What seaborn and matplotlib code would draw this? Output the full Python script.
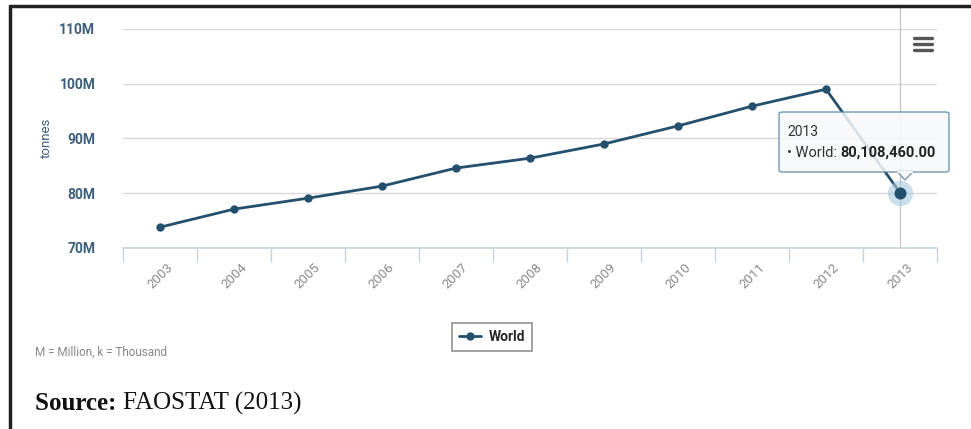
import matplotlib
matplotlib.use("Agg")
import matplotlib.pyplot as plt
import seaborn as sns
import pandas as pd
import numpy as np
from matplotlib.patches import FancyBboxPatch, Polygon
from matplotlib.lines import Line2D

# data (million tonnes)
years = ["2003", "2004", "2005", "2006", "2007", "2008", "2009", "2010", "2011", "2012", "2013"]
world = [73.8, 77.1, 79.1, 81.3, 84.6, 86.4, 89.0, 92.3, 95.9, 99.0, 80.108460]
yticks = [70, 80, 90, 100, 110]
ytick_labels = ["70M", "80M", "90M", "100M", "110M"]

W, H = 971, 429
line_col = "#24506e"
lab_col = "#3d5f7c"

sns.set_style("white")
plt.rcParams["font.family"] = ["Roboto", "DejaVu Sans"]

df = pd.DataFrame({"year": years, "value": world, "series": "World"})

fig = plt.figure(figsize=(W / 100, H / 100), dpi=100)
ax = fig.add_axes([123 / W, 1 - 248 / H, (937 - 123) / W, (248 - 29) / H])


def fx(x):
    return x / W


def fy(y):
    return 1 - y / H


sns.lineplot(data=df, x="year", y="value", ax=ax, color=line_col, linewidth=2,
             marker="o", markersize=6, markeredgewidth=0, label="World")

# highlighted last point
ax.scatter([len(years) - 1], [world[-1]], s=330, color="#a9c9df", alpha=0.6, zorder=4, linewidths=0)
ax.scatter([len(years) - 1], [world[-1]], s=75, color=line_col, zorder=5, linewidths=0)
ax.axvline(len(years) - 1, color="#c8c8c8", lw=1, zorder=1, ymax=1.11, clip_on=False)

ax.set_ylim(70, 110)
ax.set_xlim(-0.5, len(years) - 0.5)
ax.set_yticks(yticks)
ax.set_yticklabels(ytick_labels, color=lab_col, fontsize=10, fontweight="bold")
ax.yaxis.grid(True, color="#d9d9d9", lw=1)
ax.set_axisbelow(True)
ax.set_ylabel("tonnes", color=lab_col, fontsize=9.5)
ax.yaxis.set_label_coords(fx(53), fy(138), transform=fig.transFigure)
ax.set_xlabel("")

ax.set_xticks(range(len(years)))
ax.set_xticklabels(years, rotation=45, color="#8a8a8a", fontsize=9.5)
ax.set_xticks(np.arange(-0.5, len(years)), minor=True)
ax.tick_params(axis="x", which="major", bottom=True, length=0, pad=9)
ax.tick_params(axis="x", which="minor", bottom=True, length=10, color="#c8d3dc", width=1)
ax.tick_params(axis="y", length=0, pad=20)
for lab in ax.get_xticklabels():
    lab.set_ha("center")

for s in ["top", "right", "left"]:
    ax.spines[s].set_visible(False)
ax.spines["bottom"].set_color("#c8d3dc")
ax.spines["bottom"].set_linewidth(1.2)

# legend
leg = ax.legend(loc="center", bbox_to_anchor=(492 / W, 1 - 337 / H),
                bbox_transform=fig.transFigure, frameon=True, fancybox=False,
                handlelength=1.6, handletextpad=0.5, borderpad=0.5,
                prop={"weight": "bold", "size": 10})
leg.get_frame().set_edgecolor("#777777")
leg.get_frame().set_linewidth(1.2)

# tooltip
tip = FancyBboxPatch((fx(779), fy(172)), fx(949) - fx(779), fy(112) - fy(172),
                     boxstyle="round,pad=0,rounding_size=0.004", transform=fig.transFigure,
                     facecolor="#f6f9fb", edgecolor="#5d86a2", lw=1, alpha=0.85, zorder=10)
fig.add_artist(tip)
pointer = Polygon([[fx(897), fy(171.5)], [fx(913), fy(171.5)], [fx(905), fy(180)]],
                  closed=True, transform=fig.transFigure, facecolor="#f6f9fb",
                  edgecolor="#5d86a2", lw=1, alpha=0.85, zorder=10)
fig.add_artist(pointer)
fig.add_artist(Line2D([fx(898), fx(912)], [fy(171.5), fy(171.5)], color="#f6f9fb", lw=1.6, zorder=11))
fig.text(fx(787), fy(132), "2013", fontsize=10, color="#333333", va="center", zorder=12)

renderer = fig.canvas.get_renderer()
t1 = fig.text(fx(787), fy(153), "\u2022 World: ", fontsize=10.5, color="#333333", va="center", zorder=12)
x_end = t1.get_window_extent(renderer).x1
fig.text(x_end / W, fy(153), "80,108,460.00", fontsize=10.5, color="#222222", va="center",
         fontweight="bold", zorder=12)

# menu icon
for yy in [38, 44, 50]:
    fig.add_artist(Line2D([fx(914), fx(932)], [fy(yy), fy(yy)], color="#555555", lw=2.4,
                          solid_capstyle="round"))

# footnotes
fig.text(fx(35), fy(352), "M = Million, k = Thousand", fontsize=8.5, color="#888888", va="center")
serif = ["Liberation Serif", "DejaVu Serif"]
s1 = fig.text(fx(35), fy(403), "Source: ", fontsize=18, fontweight="bold", va="center",
              family=serif, color="#111111")
x_end = s1.get_window_extent(renderer).x1
fig.text(x_end / W, fy(403), "FAOSTAT (2013)", fontsize=18, va="center",
         family=serif, color="#111111")

# page frame
fig.add_artist(Line2D([fx(10), 1], [fy(6), fy(6)], color="#222222", lw=2.5))
fig.add_artist(Line2D([fx(10), fx(10)], [fy(6), 0], color="#222222", lw=2.5))

fig.savefig("out.png", dpi=100, facecolor="white")
